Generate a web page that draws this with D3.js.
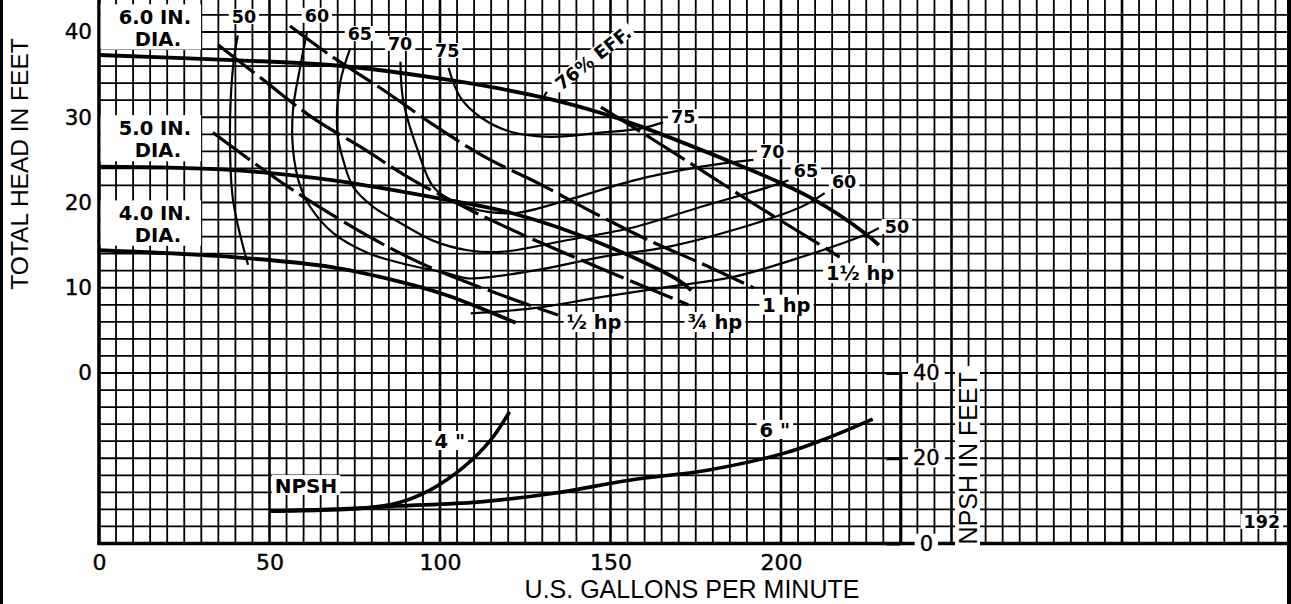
<!DOCTYPE html>
<html><head><meta charset="utf-8">
<script src="https://cdn.jsdelivr.net/npm/d3@7"></script>
<style>html,body{margin:0;padding:0;background:#fff;} svg{display:block;}</style>
</head><body>
<svg id="chart" width="1291" height="604"></svg>
<script>
// ---------- data (gpm, feet) ----------
const gpmTicks = [0, 50, 100, 150, 200];
const headTicks = [0, 10, 20, 30, 40];
const npshTicks = [0, 20, 40];

// head-capacity curves by impeller diameter
const head6 = [[0,37.3],[39.3,36.7],[68.7,36.1],[102.2,34.4],[130.4,32.3],[147.2,30.5],[159,28.9],[186.3,24.6],[199.3,22.4],[209.9,20.3],[224.6,16.4],[228.7,15.0]];
const head5 = [[0,24.2],[39.3,23.8],[68.7,22.6],[102.2,20.3],[120.7,18.8],[147.2,15.2],[169.9,10.9],[173.7,9.7]];
const head4 = [[0,14.4],[39.3,13.6],[68.7,12.4],[88.4,10.7],[102.2,9.1],[122.2,5.9]];

// iso-efficiency curves (%)
const eff50a = [[40.7,39.6],[39.3,35.9],[38.4,28.2],[39.3,20.3],[43.7,12.7]];
const eff50b = [[109,7.0],[127.5,7.6],[147.2,8.9],[166.9,10.1],[186.3,11.3],[206,13.6],[225.7,16.4],[228.7,17.0]];
const eff60 = [[61,40.0],[59,35.9],[56.9,30.9],[56.9,26.2],[59,21.9],[61.9,19.5],[68.7,16.4],[78.7,14.1],[88.4,12.9],[102.2,11.7],[108.1,11.1],[127.5,12.0],[147.2,13.6],[166.9,14.8],[186.3,16.8],[206,19.5],[212.8,21.1]];
const eff65 = [[73.7,38.1],[70.7,34.0],[69.9,28.2],[71.6,25.0],[74.6,21.8],[80.4,19.5],[88.4,17.6],[98.1,15.5],[108.1,14.4],[117.8,14.2],[137.5,15.6],[156.9,17.1],[176.6,19.5],[196.3,21.8],[202.2,22.6]];
const eff70 = [[88.4,36.5],[89.2,32.0],[93.4,26.2],[98.1,21.8],[105.1,19.9],[114,18.9],[122.8,18.8],[137.5,20.3],[156.9,22.6],[176.6,24.2],[191.9,25.0]];
const eff75 = [[102.5,35.8],[106,32.3],[111.9,30.0],[120.7,28.3],[132.5,27.7],[147.2,28.2],[159,28.7],[165.4,29.4]];
const eff76Mark = [[129.9,32.0],[131.3,33.0]];

// brake horsepower lines
const hpHalf = [[33.4,28.2],[59,20.9],[93.7,13.0],[134.6,6.8]];
const hpThreeQuarter = [[34.9,38.5],[47.8,34.5],[62.8,29.9],[77.2,26.4],[92.2,22.6],[117.8,17.4],[143.4,12.9],[172.8,8.0]];
const hpOne = [[56,40.7],[68.4,37.1],[83.4,33.2],[98.1,29.1],[113.4,25.3],[129.6,22.1],[145.1,18.8],[161,15.6],[177.5,12.7],[191.9,10.0]];
const hpOneHalf = [[147.2,31.2],[162.8,27.3],[176.6,23.8],[193.4,19.5],[208.4,15.8],[217.2,13.6]];

// NPSH required (gpm, NPSH ft)
const npsh4 = [[50,7.6],[77.5,8.3],[87.5,9.5],[97.2,12.6],[106.9,17.9],[114.9,24.3],[120.4,30.9]];
const npsh6 = [[50,7.6],[77.5,8.3],[87.5,8.8],[111,9.7],[133.4,11.8],[156,14.9],[178.4,17.2],[201,21.2],[212.2,24.3],[226.9,29.2]];

// labels
const diaLabels = [
  {l1:"6.0 IN.", l2:"DIA.", g:16.4, h1:40.9, h2:38.4},
  {l1:"5.0 IN.", l2:"DIA.", g:16.4, h1:27.9, h2:25.3},
  {l1:"4.0 IN.", l2:"DIA.", g:16.4, h1:17.9, h2:15.4}
];
const effLabels = [
  {t:"50", g:42.5, h:41.05}, {t:"60", g:63.9, h:41.2}, {t:"65", g:76.5, h:39.06},
  {t:"70", g:88.3, h:37.9}, {t:"75", g:102.1, h:37.07},
  {t:"75", g:171.3, h:29.32}, {t:"70", g:197.4, h:25.2}, {t:"65", g:207.3, h:23.0},
  {t:"60", g:218.5, h:21.7}, {t:"50", g:234.0, h:16.42}
];
const hpLabels = [
  {t:"½ hp", g:145.2, h:5.16}, {t:"¾ hp", g:180.6, h:5.16},
  {t:"1 hp", g:201.6, h:7.2}, {t:"1½ hp", g:223.2, h:10.9}
];
const npshLabels = [
  {t:"NPSH", g:60.7, n:11.85}, {t:"4 \"", g:102.9, n:22.4}, {t:"6 \"", g:198.2, n:25.0}
];

// ---------- scales ----------
const W = 1291, H = 604;
const x = d3.scaleLinear().domain([0, 200]).range([99, 781]);
const y = d3.scaleLinear().domain([-20, 40]).range([543.5, 32]);
const yN = d3.scaleLinear().domain([0, 40]).range([y(-20), y(0)]);

const LABEL_FONT = "'DejaVu Sans', sans-serif";
const TITLE_FONT = "'Liberation Sans', Arial, sans-serif";

const svg = d3.select("#chart");
svg.append("rect").attr("width", W).attr("height", H).attr("fill", "#fff");

const gridG = svg.append("g");
const boxG = svg.append("g");
const curveG = svg.append("g");
const textG = svg.append("g");

// ---------- grid ----------
const rightLimit = 1283;
const vLines = d3.range(0, 400, 5).filter(v => x(v) < rightLimit);
gridG.selectAll("line.v").data(vLines).join("line")
  .attr("x1", d => x(d)).attr("x2", d => x(d))
  .attr("y1", 0).attr("y2", y(-20))
  .attr("stroke", "#000").attr("stroke-width", d => d % 50 === 0 ? 2.6 : 1.8);
const hLines = d3.range(-20, 46, 2).filter(v => y(v) >= 0);
gridG.selectAll("line.h").data(hLines).join("line")
  .attr("x1", x(0)).attr("x2", 1289)
  .attr("y1", d => y(d)).attr("y2", d => y(d))
  .attr("stroke", "#000").attr("stroke-width", 1.8);

// borders
gridG.append("line").attr("x1", x(0)).attr("x2", x(0)).attr("y1", 0).attr("y2", y(-20) + 1.5)
  .attr("stroke", "#000").attr("stroke-width", 3.4);
gridG.append("line").attr("x1", x(0) - 1.5).attr("x2", 1289).attr("y1", y(-20)).attr("y2", y(-20))
  .attr("stroke", "#000").attr("stroke-width", 3.4);
gridG.append("rect").attr("x", 1287).attr("y", 0).attr("width", 4).attr("height", H).attr("fill", "#000");
gridG.append("rect").attr("x", 0).attr("y", 0).attr("width", 3).attr("height", H).attr("fill", "#000");

// ---------- curves ----------
const line = d3.line().x(d => x(d[0])).y(d => y(d[1])).curve(d3.curveCatmullRom.alpha(0.5));
const lineN = d3.line().x(d => x(d[0])).y(d => yN(d[1])).curve(d3.curveCatmullRom.alpha(0.5));

function path(data, gen, sw, dash) {
  const p = curveG.append("path").attr("d", gen(data)).attr("fill", "none")
    .attr("stroke", "#000").attr("stroke-width", sw)
    .attr("stroke-linecap", "butt").attr("stroke-linejoin", "round");
  if (dash) p.attr("stroke-dasharray", dash);
  return p;
}
[eff50a, eff50b, eff60, eff65, eff70, eff75].forEach(d => path(d, line, 2.2));
path(eff76Mark, d3.line().x(d => x(d[0])).y(d => y(d[1])), 2.2);
[hpHalf, hpThreeQuarter, hpOne, hpOneHalf].forEach(d => path(d, line, 3.2, "46,7"));
[head6, head5, head4].forEach(d => path(d, line, 3.8));
[npsh4, npsh6].forEach(d => path(d, lineN, 3.6));

// ---------- text helpers ----------
function addText(t, px, py, size, weight, opts = {}) {
  const el = textG.append("text").text(t)
    .attr("x", px).attr("y", py)
    .attr("font-family", opts.family || LABEL_FONT)
    .attr("font-size", size).attr("font-weight", weight)
    .attr("text-anchor", opts.anchor || "middle")
    .attr("fill", "#000");
  if (opts.transform) el.attr("transform", opts.transform);
  if (opts.ls) el.attr("letter-spacing", opts.ls);
  return el;
}
function boxBehind(el, px, pyTop, pyBot) {
  const b = el.node().getBBox();
  const r = boxG.append("rect")
    .attr("x", b.x - px).attr("y", b.y - pyTop)
    .attr("width", b.width + 2 * px).attr("height", b.height + pyTop + pyBot)
    .attr("fill", "#fff");
  const tr = el.attr("transform");
  if (tr) r.attr("transform", tr);
  return r;
}

// diameter labels (boxes run from the axis)
diaLabels.forEach(d => {
  const a = addText(d.l1, x(d.g), y(d.h1), 19.5, "bold");
  const b = addText(d.l2, x(d.g) + 3, y(d.h2), 19.5, "bold");
  const ba = a.node().getBBox(), bb = b.node().getBBox();
  const top = Math.min(ba.y, bb.y) - 2, bot = Math.max(ba.y + ba.height, bb.y + bb.height) - 1;
  const right = Math.max(ba.x + ba.width, bb.x + bb.width) + 10;
  boxG.append("rect").attr("x", x(0) + 1.6).attr("y", Math.max(0, top))
    .attr("width", right - x(0) - 1.6).attr("height", bot - Math.max(0, top)).attr("fill", "#fff");
});

effLabels.forEach(d => {
  const t = addText(d.t, x(d.g), y(d.h), 17.5, "bold");
  boxBehind(t, 3, -2, -3);
});

// 76% EFF. rotated label
{
  const cx = x(144.9), cy = y(36.95);
  const t = addText("76% EFF.", 0, 0, 18, "bold", {transform: `translate(${cx},${cy}) rotate(-38)`});
  t.attr("dy", "0.36em");
  boxBehind(t, 3, -2, -4);
}

hpLabels.forEach(d => {
  const t = addText(d.t, x(d.g), y(d.h), 19.5, "bold");
  boxBehind(t, 3, -1, -2);
});

npshLabels.forEach(d => {
  const t = addText(d.t, x(d.g), yN(d.n), d.t === "NPSH" ? 20 : 19.5, "bold");
  boxBehind(t, 3, -1, -3);
});

{
  const t = addText("192", x(341), y(-18.18), 17.5, "bold");
  boxBehind(t, 3, -2, -3);
}

// ---------- axes ----------
const axL = svg.append("g").attr("transform", "translate(92,0)")
  .call(d3.axisLeft(y).tickValues(headTicks).tickSize(0).tickPadding(0));
axL.select(".domain").remove();
axL.selectAll("text").attr("font-family", LABEL_FONT).attr("font-size", 21.5).attr("fill", "#000")
  .attr("stroke", "#000").attr("stroke-width", 0.4);

const axB = svg.append("g").attr("transform", "translate(0,570)")
  .call(d3.axisBottom(x).tickValues(gpmTicks).tickSize(0).tickPadding(0));
axB.select(".domain").remove();
axB.selectAll("text").attr("dy", 0).attr("font-family", LABEL_FONT).attr("font-size", 22).attr("fill", "#000")
  .attr("stroke", "#000").attr("stroke-width", 0.4);

const axR = svg.append("g").attr("transform", `translate(${x(235)},0)`)
  .call(d3.axisRight(yN).tickValues(npshTicks).tickSizeInner(-14).tickSizeOuter(0).tickPadding(26));
axR.select(".domain").attr("stroke", "#000").attr("stroke-width", 3);
axR.selectAll(".tick line").attr("stroke", "#000").attr("stroke-width", 3);
axR.selectAll(".tick text").attr("text-anchor", "middle")
  .attr("font-family", LABEL_FONT).attr("font-size", 21).attr("fill", "#000")
  .attr("stroke", "#000").attr("stroke-width", 0.4);
axR.selectAll(".tick").each(function() {
  const tx = d3.select(this).select("text");
  const b = tx.node().getBBox();
  d3.select(this).insert("rect", "text")
    .attr("x", b.x - 5).attr("y", b.y + 2).attr("width", b.width + 10).attr("height", b.height - 5)
    .attr("fill", "#fff");
});

// axis titles
addText("U.S. GALLONS PER MINUTE", 692, 598, 25, "normal", {family: TITLE_FONT});
addText("TOTAL HEAD IN FEET", 0, 0, 24.5, "normal", {family: TITLE_FONT, transform: "translate(28,164) rotate(-90)"});
{
  const t = addText("NPSH IN FEET", 0, 0, 25, "normal", {family: TITLE_FONT, transform: `translate(977,${(yN(0)+yN(40))/2}) rotate(-90)`});
  boxBehind(t, 6, -1, -2);
}
</script>
</body></html>
